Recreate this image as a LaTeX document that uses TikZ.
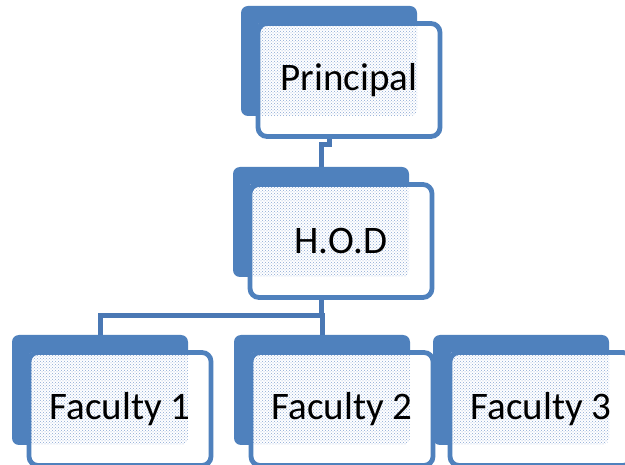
\documentclass[tikz,border=0pt]{standalone}
\usepackage{fontspec}
\setmainfont{Carlito}
\usetikzlibrary{patterns,calc}
\definecolor{boxblue}{HTML}{4F81BD}
\definecolor{linkblue}{HTML}{4A78B4}
\definecolor{dotblue}{HTML}{8AA8D4}
\tikzset{
  backbox/.style={fill=boxblue, rounded corners=7pt, minimum width=176pt, minimum height=110pt, inner sep=0pt, outer sep=0pt},
  frontbox/.style={fill=white, rounded corners=9pt, minimum width=182pt, minimum height=113pt, inner sep=0pt, outer sep=0pt},
  border/.style={draw=boxblue, line width=4.8pt, rounded corners=9pt},
  link/.style={draw=linkblue, line width=5pt},
  dotfill/.style={pattern=crosshatch dots, pattern color=dotblue}
}
\newcommand{\unitbox}[4]{%
  \node[backbox] (#1b) at (#2,#3) {};
  \node[frontbox] (#1) at ($(#2,#3)+(20,19)$) {};
  \begin{scope}
    \clip[rounded corners=7pt] (#1b.south west) rectangle (#1b.north east);
    \fill[dotfill] (#1.south west) rectangle (#1.north east);
  \end{scope}
  \draw[border] (#1.south west) rectangle (#1.north east);
  \node[font=\fontsize{39}{41}\selectfont, inner sep=0pt] (#1t) at (#1.center) {#4};
}
\begin{document}
\begin{tikzpicture}[x=1pt,y=-1pt]
\clip (0,0) rectangle (625,465);
\fill[white] (0,0) rectangle (625,465);
\node[backbox, fill=none] (pb0) at (329,61) {};
\node[backbox, fill=none] (hb0) at (321,222) {};
\node[backbox, fill=none] (f1b0) at (100,390) {};
\node[backbox, fill=none] (f2b0) at (322,390) {};
\draw[link] (pb0.center) -- ++(0,84) -| ($(hb0.north)+(0,-12)$) -- (hb0.center);
\coordinate (hj) at ($(hb0.south)+(0,39)$);
\draw[link] (hb0.center) -- (hj) -| (f1b0.center);
\draw[link] (hj) -| (f2b0.center);
\unitbox{p}{329}{61}{Principal}
\unitbox{h}{321}{222}{H.O.D}
\unitbox{fa}{100}{390}{Faculty 1}
\unitbox{fb}{322}{390}{Faculty 2}
\unitbox{fc}{521}{390}{Faculty 3}
\end{tikzpicture}
\end{document}
